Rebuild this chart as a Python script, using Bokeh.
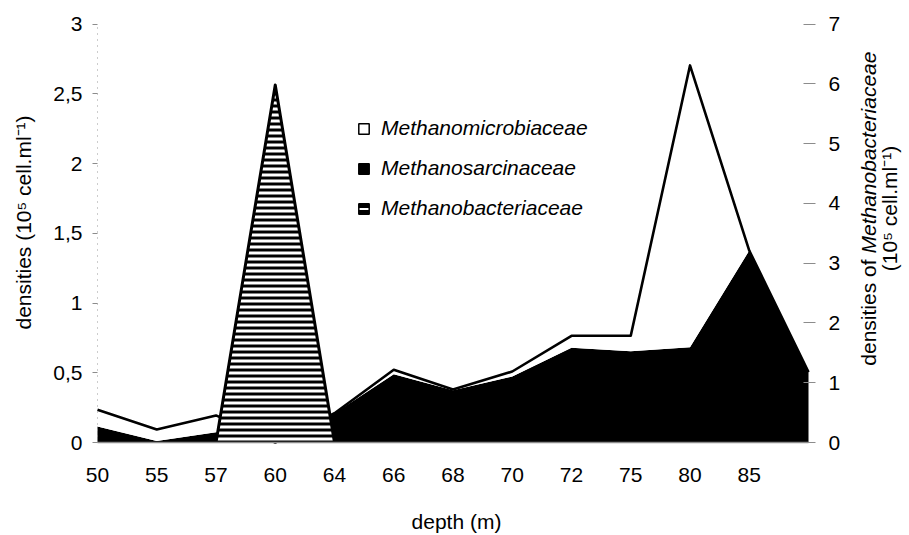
import numpy as np
from math import pi
from bokeh.plotting import figure
from bokeh.models import (Range1d, LinearAxis, FixedTicker, Label, Legend,
                          LegendItem)
from bokeh.embed import file_html
from bokeh.resources import INLINE

# ---------------- data ----------------
depth_labels = ['50', '55', '57', '60', '64', '66', '68', '70', '72', '75', '80', '85', '']
methanosarcinaceae = [0.115, 0.01, 0.074, 0.0, 0.21, 0.49, 0.375, 0.473, 0.68, 0.655, 0.683, 1.376, 0.504]
methanomicrobiaceae = [0.12, 0.083, 0.12, 0.0, 0.0, 0.031, 0.005, 0.036, 0.085, 0.11, 2.02, 0.0, 0.0]
methanobacteriaceae = [0, 0, 0, 5.98, 0, 0, 0, 0, 0, 0, 0, 0, 0]
left_ticks = [0, 0.5, 1, 1.5, 2, 2.5, 3]
left_tick_labels = ['0', '0,5', '1', '1,5', '2', '2,5', '3']
right_ticks = [0, 1, 2, 3, 4, 5, 6, 7]

FONT = "Liberation Sans"
FS = "21px"

# ---------------- layout (pixels) ----------------
W, H = 909, 535
PLOT_L, PLOT_R = 97, 808        # plot area, left/right edge
PLOT_T, PLOT_B = 23.5, 442      # plot area, top/bottom edge
LEFT_MAX, RIGHT_MAX = 3, 7

x = np.arange(len(depth_labels))
n_int = len(depth_labels) - 1
px_x = (PLOT_R - PLOT_L) / n_int
px_yl = (PLOT_B - PLOT_T) / LEFT_MAX
px_yr = (PLOT_B - PLOT_T) / RIGHT_MAX

x_range = Range1d(-PLOT_L / px_x, n_int + (W - PLOT_R) / px_x)
y_range = Range1d(-(H - PLOT_B) / px_yl, LEFT_MAX + PLOT_T / px_yl)
yr_range = Range1d(-(H - PLOT_B) / px_yr, RIGHT_MAX + PLOT_T / px_yr)

black_top = np.array(methanosarcinaceae)
total = black_top + np.array(methanomicrobiaceae)
mb = np.array(methanobacteriaceae)

p = figure(width=W, height=H, x_range=x_range, y_range=y_range,
           output_backend="svg", toolbar_location=None,
           x_axis_location=None, y_axis_location=None,
           min_border=0, min_border_left=0, min_border_right=0,
           min_border_top=0, min_border_bottom=0)
p.extra_y_ranges = {"right": yr_range}
p.outline_line_color = None
p.xgrid.visible = False
p.ygrid.visible = False
p.background_fill_color = "white"
p.border_fill_color = "white"

# stacked areas (left axis)
p.varea(x=x, y1=0, y2=black_top, fill_color="black")
p.varea(x=x, y1=black_top, y2=total, fill_color="white")
p.line(x=x, y=total, line_color="black", line_width=2.6, line_join="round")

# Methanobacteriaceae (right axis), hatched
p.varea(x=x, y1=0, y2=mb, y_range_name="right", fill_color="white",
        hatch_pattern="horizontal_line", hatch_color="black",
        hatch_weight=3, hatch_scale=6)
nz = slice(2, 5)
p.line(x=x[nz], y=mb[nz], y_range_name="right", line_color="black",
       line_width=3, line_join="round")

# ---------------- axes ----------------
xa = LinearAxis(fixed_location=0, bounds=(0, n_int),
                ticker=FixedTicker(ticks=list(range(n_int))))
xa.major_label_overrides = {i: lab for i, lab in enumerate(depth_labels) if lab}
xa.major_tick_line_color = None
xa.major_tick_out = 0
xa.major_tick_in = 0
xa.minor_tick_line_color = None
xa.axis_line_color = "#8c8c8c"
xa.axis_line_width = 1.5
xa.major_label_standoff = 25
xa.major_label_text_font = FONT
xa.major_label_text_font_size = FS
xa.major_label_text_color = "black"
p.add_layout(xa, "below")

ya = LinearAxis(fixed_location=0, bounds=(0, LEFT_MAX),
                ticker=FixedTicker(ticks=left_ticks))
ya.major_label_overrides = {t: l for t, l in zip(left_ticks, left_tick_labels)}
ya.axis_line_color = "#9a9a9a"
ya.axis_line_dash = "1 5"
ya.major_tick_line_color = "#8c8c8c"
ya.major_tick_in = 0
ya.major_tick_out = 5
ya.minor_tick_line_color = None
ya.major_label_standoff = 10
ya.major_label_text_font = FONT
ya.major_label_text_font_size = FS
ya.major_label_text_color = "black"
p.add_layout(ya, "left")

ra = LinearAxis(y_range_name="right", fixed_location=n_int,
                bounds=(0, RIGHT_MAX), ticker=FixedTicker(ticks=right_ticks))
ra.axis_line_color = None
ra.major_tick_line_color = "#8c8c8c"
ra.major_tick_in = 5
ra.major_tick_out = 7
ra.minor_tick_line_color = None
ra.major_label_standoff = 13
ra.major_label_text_font = FONT
ra.major_label_text_font_size = FS
ra.major_label_text_color = "black"
p.add_layout(ra, "right")

# ---------------- legend ----------------
nan = [float("nan")]
r1 = p.quad(left=nan, right=nan, top=nan, bottom=nan, fill_color="white",
            line_color="black", line_width=1.5)
r2 = p.quad(left=nan, right=nan, top=nan, bottom=nan, fill_color="black",
            line_color="black", line_width=1.5)
r3 = p.quad(left=nan, right=nan, top=nan, bottom=nan, fill_color="white",
            line_color="black", line_width=1.5, hatch_pattern="horizontal_line",
            hatch_color="black", hatch_weight=4, hatch_scale=6)
legend = Legend(items=[LegendItem(label="Methanomicrobiaceae", renderers=[r1]),
                       LegendItem(label="Methanosarcinaceae", renderers=[r2]),
                       LegendItem(label="Methanobacteriaceae", renderers=[r3])],
                location=(357, H - 220), glyph_width=13, glyph_height=13,
                label_standoff=11, spacing=16, padding=0, margin=0,
                label_height=24, border_line_color=None,
                background_fill_alpha=0, label_text_font=FONT,
                label_text_font_size=FS, label_text_font_style="italic",
                label_text_color="black")
p.add_layout(legend)

# ---------------- axis titles ----------------
def lab(text, px, py, angle=0.0, align="center", style="normal"):
    p.add_layout(Label(x=px, y=H - py, x_units="screen", y_units="screen",
                       text=text, angle=angle, text_align=align,
                       text_baseline="middle", text_font=FONT,
                       text_font_size=FS, text_font_style=style,
                       text_color="black"))

lab("densities (10\u2075 cell.ml\u207b\u00b9)", 23, 222, angle=pi / 2)
lab("depth (m)", 456, 521)
lab("densities of", 868, 259, angle=pi / 2, align="right")
lab("Methanobacteriaceae", 868, 253, angle=pi / 2, align="left", style="italic")
lab("(10\u2075 cell.ml\u207b\u00b9)", 889, 208, angle=pi / 2)

open("out.html", "w").write(file_html(p, INLINE))
